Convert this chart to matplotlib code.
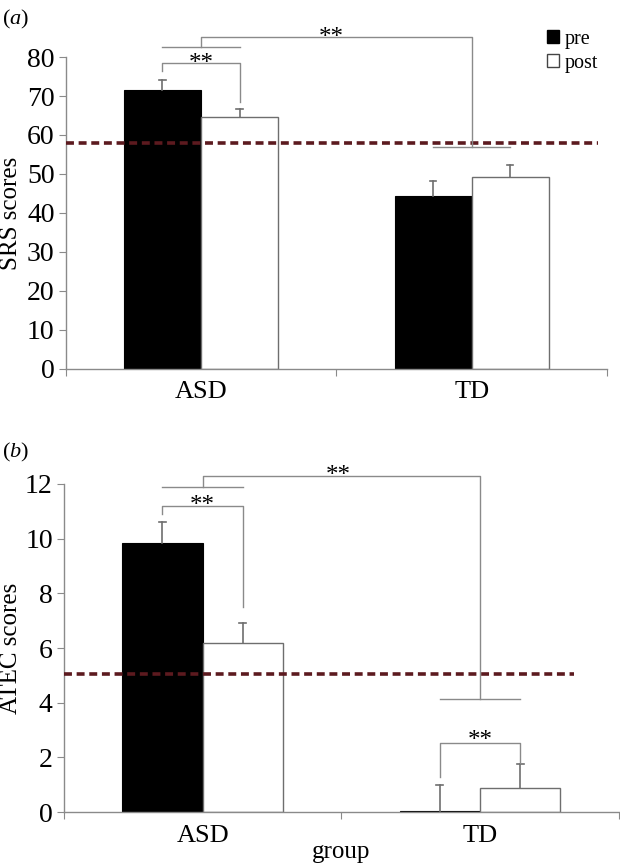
import matplotlib.pyplot as plt
from matplotlib.patches import Patch

plt.rcParams['font.family'] = ['Liberation Serif', 'DejaVu Serif']
plt.rcParams['mathtext.fontset'] = 'custom'
plt.rcParams['mathtext.it'] = 'Liberation Serif:italic'
plt.rcParams['mathtext.rm'] = 'Liberation Serif'

groups = ['ASD', 'TD']

srs_pre = [71.5, 44.3]
srs_post = [64.6, 49.3]
srs_pre_err = [2.7, 3.8]
srs_post_err = [2.1, 3.0]
srs_cutoff = 58

atec_pre = [9.85, 0.05]
atec_post = [6.18, 0.87]
atec_pre_err = [0.77, 0.95]
atec_post_err = [0.72, 0.88]
atec_cutoff = 5.05

grey = '#8a8a8a'
cut_color = '#5c1a1f'

fig = plt.figure(figsize=(6.2, 8.64), dpi=100)
ax1 = fig.add_axes([0.106, 0.573, 0.873, 0.361])
ax2 = fig.add_axes([0.103, 0.060, 0.895, 0.380])


def err_up(ax, xs, ys, errs):
    cap = 0.012
    for x, y, e in zip(xs, ys, errs):
        ax.plot([x, x], [y, y + e], color='#6e6e6e', linewidth=1.2, zorder=3)
        ax.plot([x - cap, x + cap], [y + e, y + e], color='#6e6e6e', linewidth=1.2, zorder=3)


def draw_panel(ax, pre, post, pre_err, post_err, cutoff, width, ymax, ystep, ylabel, cut_end):
    x = [0, 1]
    xpre = [i - width / 2 for i in x]
    xpost = [i + width / 2 for i in x]
    ax.bar(xpre, pre, width, color='black', edgecolor='black', linewidth=0.8, zorder=2)
    ax.bar(xpost, post, width, color='white', edgecolor='#6e6e6e', linewidth=1.0, zorder=2)
    err_up(ax, xpre, pre, pre_err)
    err_up(ax, xpost, post, post_err)
    ax.axhline(cutoff, xmin=0, xmax=cut_end, color=cut_color,
               linestyle=(0, (2.2, 1.3)), linewidth=2.6, zorder=4)
    ax.set_xlim(-0.5, 1.5)
    ax.set_ylim(0, ymax)
    ax.set_yticks(range(0, ymax + 1, ystep))
    ax.set_xticks([-0.5, 0.5, 1.5])
    ax.set_xticklabels([])
    ax.set_xticks(x, minor=True)
    ax.set_xticklabels(groups, minor=True, fontsize=19)
    ax.tick_params(axis='x', which='minor', length=0, pad=9)
    ax.tick_params(axis='x', which='major', length=5, color=grey, direction='out')
    ax.tick_params(axis='y', length=5, color=grey, direction='out', labelsize=20, pad=3)
    for s in ['top', 'right']:
        ax.spines[s].set_visible(False)
    for s in ['left', 'bottom']:
        ax.spines[s].set_color(grey)
        ax.spines[s].set_linewidth(1.0)
    ax.set_ylabel(ylabel, fontsize=18)
    return xpre, xpost


def line(ax, xs, ys):
    ax.plot(xs, ys, color=grey, linewidth=1.0, clip_on=False, zorder=5)


# panel (a)
xp, xq = draw_panel(ax1, srs_pre, srs_post, srs_pre_err, srs_post_err,
                    srs_cutoff, 0.285, 80, 10, 'SRS scores', 0.983)
ax1.yaxis.set_label_coords(-0.081, 0.5)
line(ax1, [xp[0], xp[0], xq[0], xq[0]], [76.4, 78.5, 78.5, 68.5])
ax1.text(0, 78.3, '**', ha='center', va='center', fontsize=18)
line(ax1, [xp[0], xq[0]], [82.5, 82.5])
line(ax1, [0, 0, 1, 1], [82.5, 85.2, 85.2, 57])
line(ax1, [xp[1], xq[1]], [57, 57])
ax1.text(0.48, 84.9, '**', ha='center', va='center', fontsize=18, clip_on=False)

# panel (b)
xp, xq = draw_panel(ax2, atec_pre, atec_post, atec_pre_err, atec_post_err,
                    atec_cutoff, 0.29, 12, 2, 'ATEC scores', 0.92)
ax2.yaxis.set_label_coords(-0.075, 0.5)
line(ax2, [xp[0], xp[0], xq[0], xq[0]], [10.88, 11.2, 11.2, 7.5])
ax2.text(0, 11.2, '**', ha='center', va='center', fontsize=18)
line(ax2, [xp[0], xq[0]], [11.87, 11.87])
line(ax2, [0, 0, 1, 1], [11.87, 12.27, 12.27, 4.14])
line(ax2, [xp[1], xq[1]], [4.14, 4.14])
ax2.text(0.49, 12.3, '**', ha='center', va='center', fontsize=18, clip_on=False)
line(ax2, [xp[1], xp[1], xq[1], xq[1]], [1.28, 2.52, 2.52, 1.8])
ax2.text(1, 2.6, '**', ha='center', va='center', fontsize=18)
ax2.set_xlabel('group', fontsize=18)
ax2.xaxis.set_label_coords(0.5, -0.088)

# panel letters
fig.text(0.003, 0.978, r'($\mathit{a}$)', fontsize=16, va='center')
fig.text(0.003, 0.476, r'($\mathit{b}$)', fontsize=16, va='center')

# legend
handles = [Patch(facecolor='black', edgecolor='black'),
           Patch(facecolor='white', edgecolor='#444444')]
fig.legend(handles, ['pre', 'post'], loc='upper left',
           bbox_to_anchor=(0.866, 0.977), frameon=False, fontsize=14.5,
           handlelength=0.6, handleheight=0.6, handletextpad=0.3,
           labelspacing=0.25, borderpad=0)

fig.savefig('out.png', dpi=100)
